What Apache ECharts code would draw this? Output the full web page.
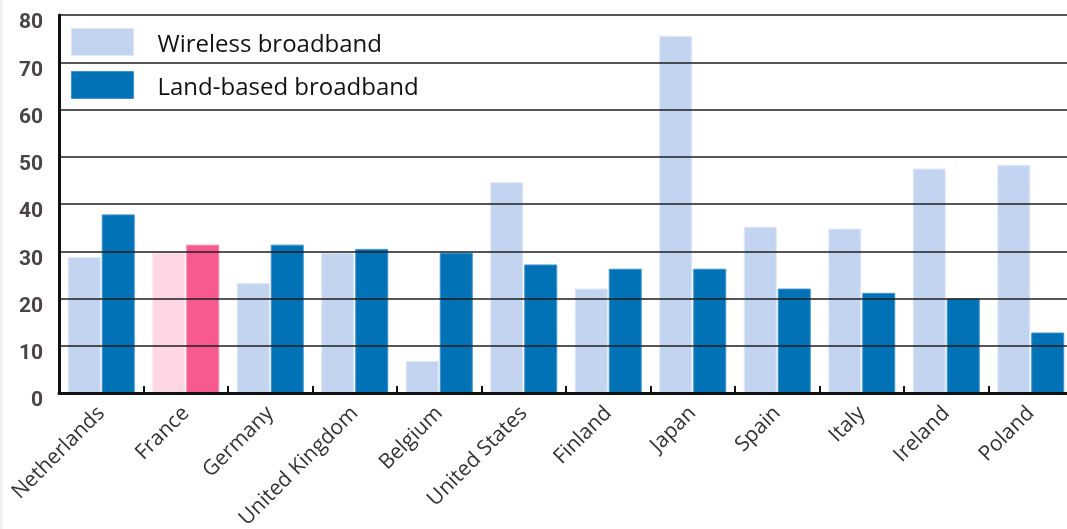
<!DOCTYPE html>
<html>
<head>
<meta charset="utf-8">
<script src="https://cdn.jsdelivr.net/npm/echarts@6/dist/echarts.min.js"></script>
<style>
html,body{margin:0;padding:0;background:#ffffff;}
#chart{width:1067px;height:529px;}
</style>
</head>
<body>
<div id="chart"></div>
<script>
const categories = ['Netherlands','France','Germany','United Kingdom','Belgium','United States','Finland','Japan','Spain','Italy','Ireland','Poland'];
const wireless = [28.8, 29.7, 23.3, 29.7, 6.8, 44.6, 22.1, 75.6, 35.2, 34.8, 47.5, 48.3];
const landBased = [37.8, 31.4, 31.4, 30.5, 29.7, 27.2, 26.3, 26.3, 22.1, 21.2, 20.0, 12.8];
const yTicks = [0, 10, 20, 30, 40, 50, 60, 70, 80];
const highlight = 'France';

const lightColor = '#c3d4f0', darkColor = '#0072b5';
const lightHi = '#fed6e4', darkHi = '#f65a8e';

function build(values, base, hi, border, hiBorder) {
  return values.map((v, i) => categories[i] === highlight
    ? { value: v, itemStyle: { color: hi, borderColor: hiBorder } }
    : { value: v, itemStyle: { color: base, borderColor: border } });
}

const chart = echarts.init(document.getElementById('chart'));
chart.setOption({
  animation: false,
  backgroundColor: '#ffffff',
  graphic: [{ type: 'rect', left: 0, top: 0, shape: { width: 3, height: 529 }, style: { fill: '#eef2f5' }, silent: true }],
  grid: { left: 59, width: 1014, top: 15, bottom: 136, containLabel: false, outerBoundsMode: 'none' },
  legend: {
    orient: 'vertical', left: 71, top: 27, itemWidth: 62, itemHeight: 27, itemGap: 13,
    icon: 'rect', padding: 0,
    formatter: '{t|{name}}',
    textStyle: {
      fontFamily: 'Open Sans', fontSize: 24, color: '#111', padding: [0, 0, 0, 19],
      rich: { t: { fontFamily: 'Open Sans', fontSize: 24, color: '#111', lineHeight: 24, padding: [6, 0, 0, 0] } }
    },
    data: [
      { name: 'Wireless broadband', itemStyle: { color: lightColor, borderColor: '#dfe8f7', borderWidth: 1 } },
      { name: 'Land-based broadband', itemStyle: { color: darkColor, borderColor: '#3f93d0', borderWidth: 1 } }
    ]
  },
  xAxis: {
    type: 'category', data: categories,
    axisLine: { lineStyle: { color: '#111', width: 3 } },
    axisTick: { show: true, inside: true, length: 7, lineStyle: { color: '#111', width: 2 }, alignWithLabel: false },
    axisLabel: { rotate: 45, interval: 0, margin: 17, fontFamily: 'Open Sans', fontSize: 21, color: '#333' },
    z: 5
  },
  yAxis: {
    type: 'value', min: yTicks[0], max: yTicks[yTicks.length - 1], interval: yTicks[1] - yTicks[0],
    axisLine: { show: true, lineStyle: { color: '#111', width: 3 } },
    axisTick: { show: false },
    splitLine: { lineStyle: { color: '#1e1e1e', width: 1.6 } },
    axisLabel: { margin: 16, fontFamily: 'Roboto', fontWeight: 'bold', fontSize: 21, color: '#4a4540', verticalAlign: 'top', lineHeight: 10, padding: [3, 0, 0, 0] },
    z: 5
  },
  series: [
    { name: 'Wireless broadband', type: 'bar', barWidth: 33, barGap: '3%',
      itemStyle: { color: lightColor, borderWidth: 1, borderColor: '#dfe8f7' },
      data: build(wireless, lightColor, lightHi, '#dfe8f7', '#ffe6ef') },
    { name: 'Land-based broadband', type: 'bar', barWidth: 33, barGap: '3%',
      itemStyle: { color: darkColor, borderWidth: 1, borderColor: '#3f93d0' },
      data: build(landBased, darkColor, darkHi, '#3f93d0', '#fb86ae') }
  ]
});
</script>
</body>
</html>
